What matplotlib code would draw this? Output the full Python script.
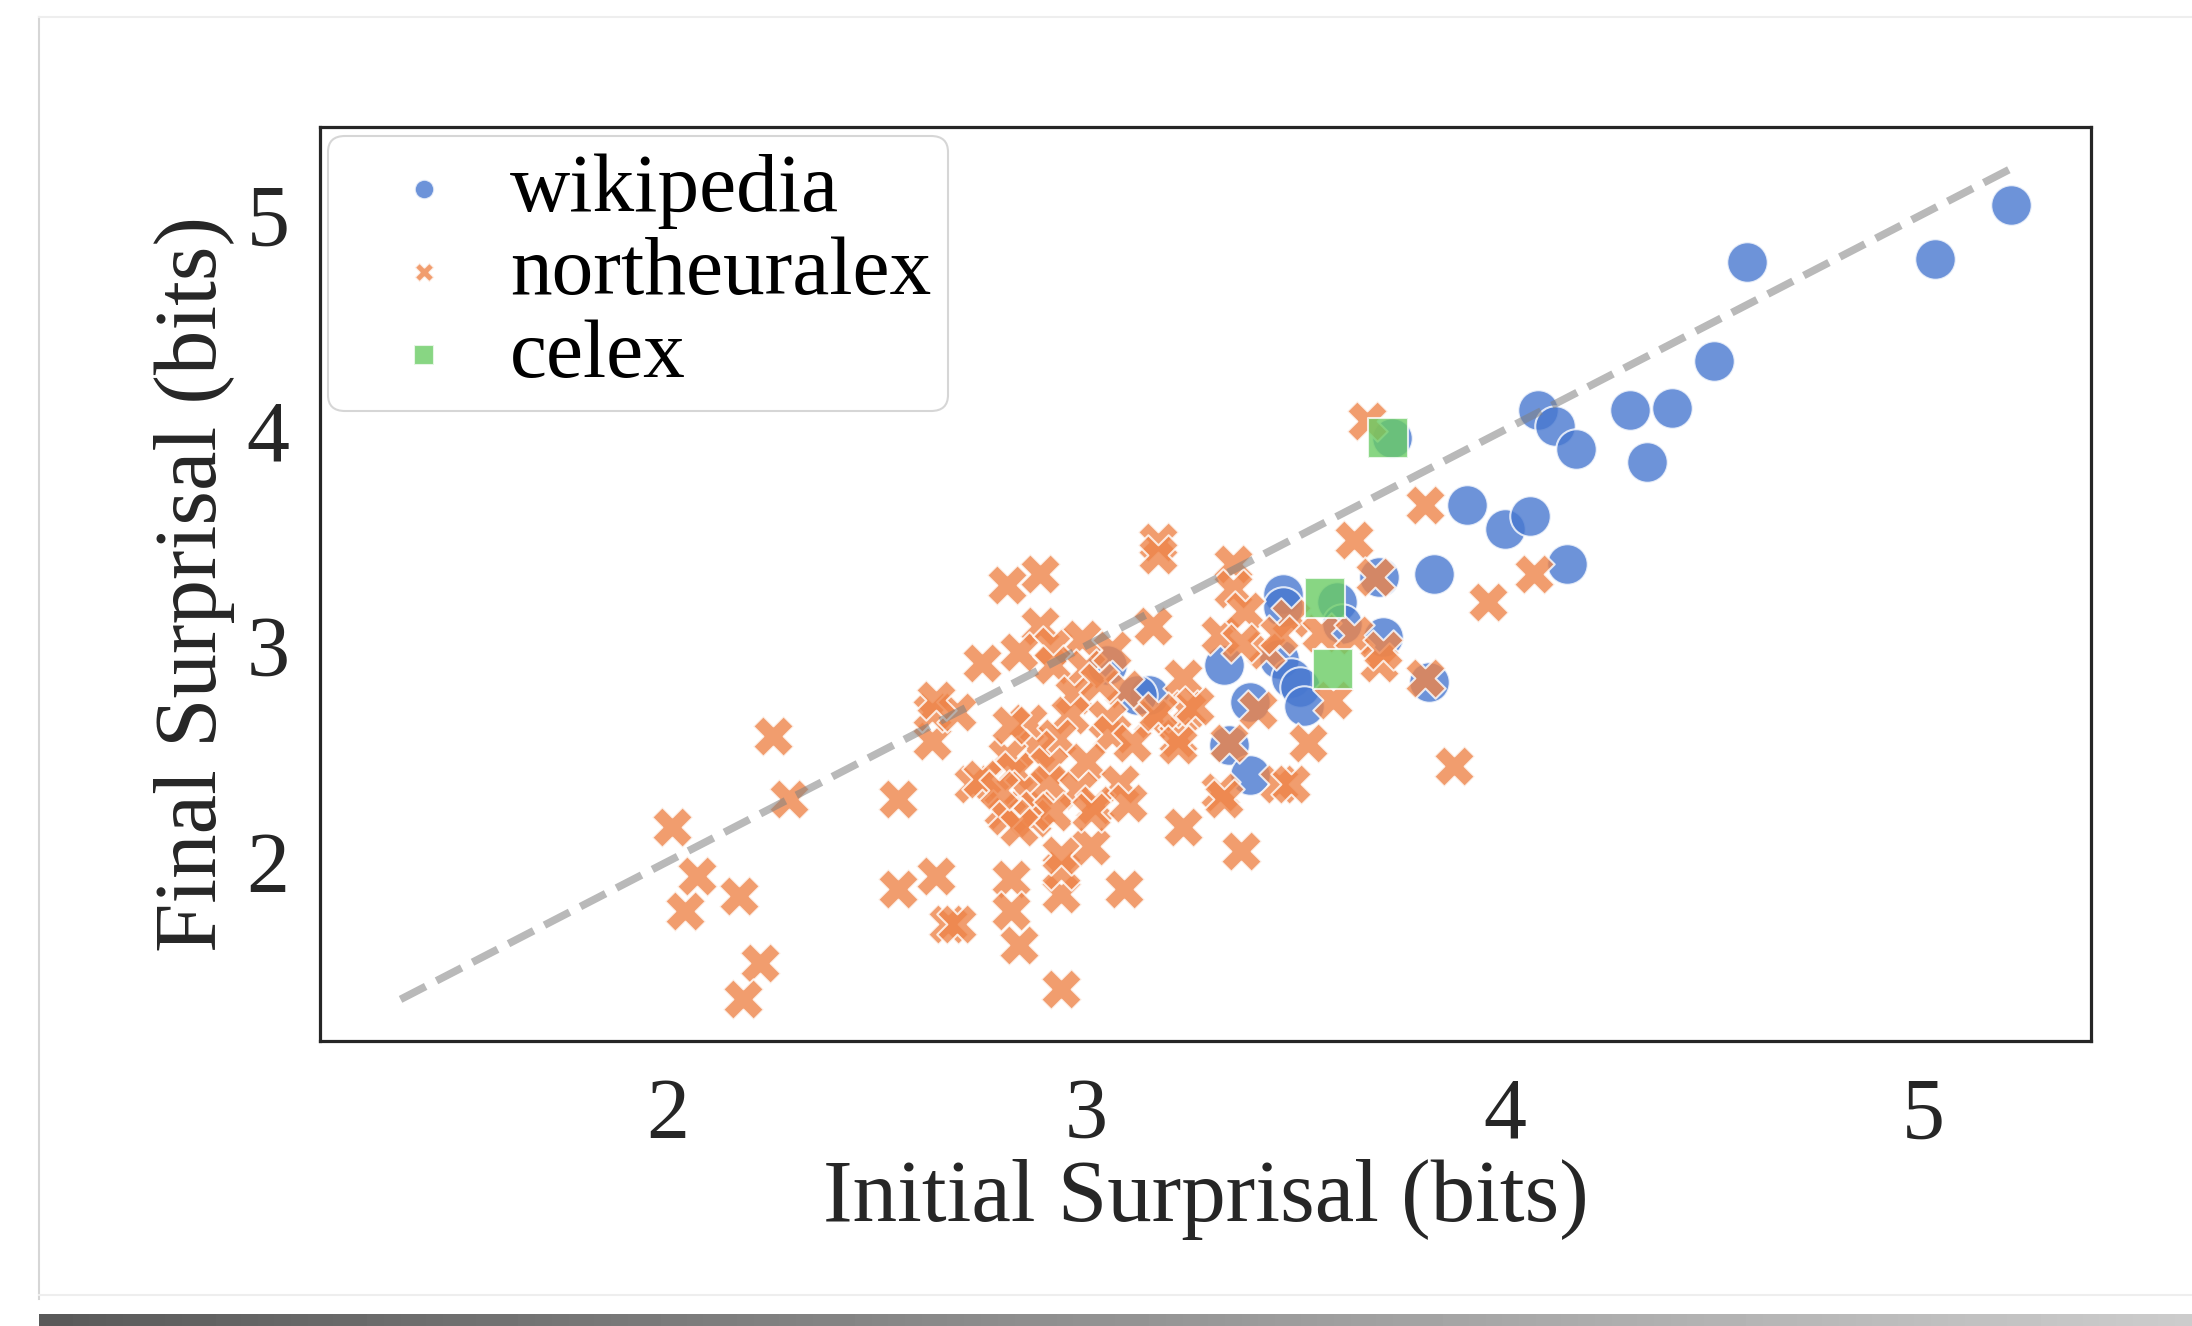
import numpy as np
import matplotlib
matplotlib.use("Agg")
import matplotlib.pyplot as plt
from matplotlib.lines import Line2D

# values (bits)
wiki_x = [5.21, 5.03, 4.58, 4.50, 4.08, 4.12, 4.17, 4.30, 4.40, 4.34,
          3.91, 4.00, 4.06, 4.15, 3.83, 3.82, 3.71, 3.70, 3.73, 3.47,
          3.47, 3.60, 3.61, 3.33, 3.46, 3.49, 3.51, 3.52, 3.39, 3.34,
          3.39, 3.15, 3.05, 3.12]
wiki_y = [5.04, 4.79, 4.78, 4.32, 4.09, 4.02, 3.91, 4.09, 4.10, 3.85,
          3.65, 3.54, 3.60, 3.38, 3.33, 2.83, 3.04, 3.32, 3.96, 3.24,
          3.18, 3.20, 3.10, 2.91, 2.94, 2.85, 2.81, 2.72, 2.74, 2.54,
          2.40, 2.77, 2.91, 2.77]

nel_x = [2.01, 2.07, 2.04, 2.17, 2.22, 2.18, 2.25, 2.29, 2.55, 2.55,
         2.64, 2.67, 2.69, 2.63, 2.63, 2.69, 2.75, 2.81, 2.89, 2.73,
         2.82, 2.82, 2.84, 2.94, 2.94, 2.94, 2.94, 3.01, 3.09, 3.23,
         3.37, 3.46, 3.49, 3.32, 3.53, 3.88, 3.96, 4.07, 3.81, 3.64,
         3.67, 3.69, 3.81, 3.17, 3.17, 2.89, 2.84, 2.92, 2.99, 3.16,
         2.64, 2.92, 3.00, 3.06, 3.09, 2.97, 3.03, 2.96, 3.05, 2.86,
         3.16, 3.23, 3.24, 3.22, 3.06, 3.11, 2.93, 2.88, 2.81, 2.75,
         2.83, 2.91, 3.00, 2.85, 2.91, 2.98, 3.08, 3.02, 2.88, 2.80,
         2.81, 2.87, 2.92, 3.01, 3.10, 2.84, 2.79, 2.82, 3.35, 3.35,
         3.32, 3.38, 3.43, 3.37, 3.49, 3.56, 3.64, 3.70, 3.26, 3.17,
         3.22, 3.34, 3.41, 3.59, 3.33, 3.46, 3.71]
nel_y = [2.16, 1.93, 1.77, 1.84, 1.53, 1.36, 2.58, 2.29, 2.29, 1.87,
         1.93, 1.71, 1.71, 2.56, 2.69, 2.69, 2.92, 3.28, 3.33, 2.36,
         1.92, 1.77, 1.61, 1.41, 1.85, 1.96, 2.03, 2.07, 1.87, 2.16,
         2.05, 2.36, 2.36, 2.32, 2.55, 2.44, 3.20, 3.33, 3.65, 3.49,
         4.04, 3.32, 2.85, 3.48, 3.42, 3.09, 2.97, 3.00, 3.03, 3.09,
         2.75, 2.91, 2.89, 2.98, 2.80, 2.77, 2.83, 2.68, 2.66, 2.64,
         2.66, 2.85, 2.70, 2.57, 2.59, 2.55, 2.57, 2.52, 2.49, 2.38,
         2.42, 2.44, 2.46, 2.33, 2.36, 2.33, 2.36, 2.26, 2.24, 2.24,
         2.21, 2.20, 2.23, 2.23, 2.27, 2.16, 2.33, 2.63, 3.38, 3.26,
         3.05, 3.16, 2.98, 3.01, 3.13, 3.06, 3.05, 2.92, 2.72, 2.69,
         2.54, 2.55, 2.70, 2.75, 2.29, 3.05, 2.98]

celex_x = [3.72, 3.57, 3.59]
celex_y = [3.96, 3.22, 2.89]

labels = ["wikipedia", "northeuralex", "celex"]
colors = ["#4878d0", "#ee854a", "#6acc64"]
markers = ["o", "X", "s"]

plt.rcParams["font.family"] = ["Liberation Serif", "DejaVu Serif"]

fig = plt.figure(figsize=(21.92, 13.26), dpi=100)
ax = fig.add_axes([0.146, 0.215, 0.808, 0.689])

series = [(wiki_x, wiki_y), (nel_x, nel_y), (celex_x, celex_y)]
for (xs, ys), lab, c, m in zip(series, labels, colors, markers):
    ax.scatter(xs, ys, s=850, c=c, marker=m, alpha=0.8,
               edgecolors="white", linewidths=1.5, label=lab)

allv = wiki_x + wiki_y + nel_x + nel_y + celex_x + celex_y
lo, hi = min(allv), max(allv)
ax.plot([lo, hi], [lo, hi], "--", color="grey", alpha=0.55, lw=5.5)

ax.set_xticks([2, 3, 4, 5])
ax.set_yticks([2, 3, 4, 5])
ax.tick_params(axis="both", length=0, labelsize=62, colors="#262626")
ax.tick_params(axis="x", pad=26)
ax.tick_params(axis="y", pad=22)
for sp in ax.spines.values():
    sp.set_linewidth(2.3)
    sp.set_color("#262626")

ax.set_xlabel("Initial Surprisal (bits)", fontsize=64, color="#262626", labelpad=2)
ax.set_ylabel("Final Surprisal (bits)", fontsize=64, color="#262626", labelpad=8)

leg = ax.legend(loc="upper left", fontsize=60, markerscale=0.48,
                labelspacing=0.08, handlelength=1.9, handletextpad=0.08,
                borderpad=0.2, borderaxespad=0.1,
                frameon=True, fancybox=True)
leg.get_frame().set_edgecolor("#cccccc")
leg.get_frame().set_linewidth(1.5)

# screenshot frame and shadow
fig.add_artist(Line2D([39 / 2192, 39 / 2192], [0.02, 1 - 17 / 1326],
                      transform=fig.transFigure, color="#d6d6d6", lw=1.5))
fig.add_artist(Line2D([39 / 2192, 1], [1 - 17 / 1326, 1 - 17 / 1326],
                      transform=fig.transFigure, color="#eeeeee", lw=1.5))
fig.add_artist(Line2D([39 / 2192, 1], [1 - 1295 / 1326, 1 - 1295 / 1326],
                      transform=fig.transFigure, color="#eeeeee", lw=1.5))
sh = fig.add_axes([39 / 2192, 0, 1 - 39 / 2192, 12 / 1326])
grad = np.linspace(0.35, 0.8, 256).reshape(1, -1)
sh.imshow(grad, aspect="auto", cmap="gray", vmin=0, vmax=1)
sh.axis("off")

fig.savefig("out.png", dpi=100)
